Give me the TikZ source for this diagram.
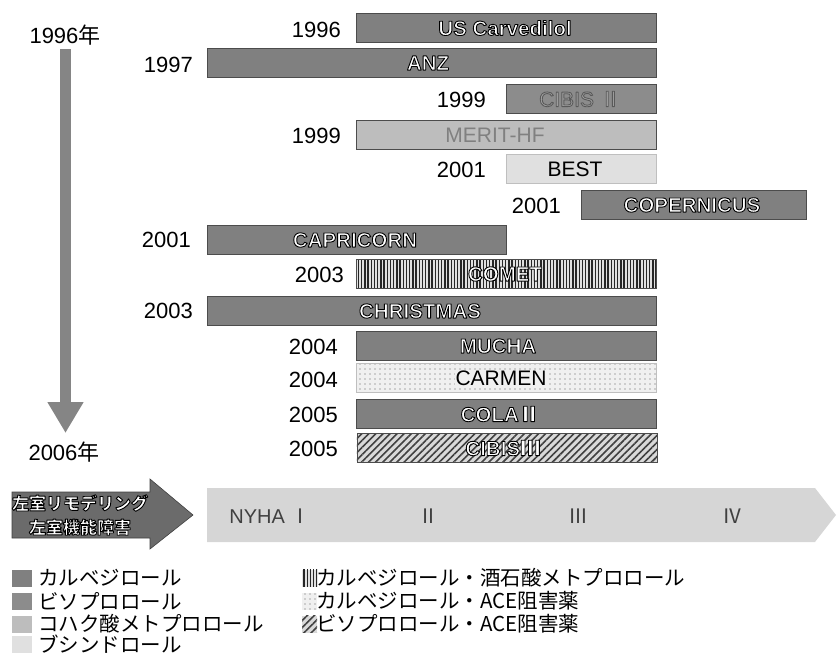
\documentclass[tikz,border=0pt]{standalone}
\usepackage{fontspec}
\setmainfont{Liberation Sans}
\newfontfamily\jp{Noto Sans CJK JP}
\usetikzlibrary{patterns,patterns.meta,arrows.meta}
\definecolor{carv}{gray}{0.50}
\definecolor{biso}{gray}{0.55}
\definecolor{meto}{gray}{0.74}
\definecolor{buci}{gray}{0.88}
\definecolor{arrowgray}{gray}{0.52}
\definecolor{nyhagray}{gray}{0.84}
% outlined text: fill with current colour, stroke in black
\newcommand\olt[2][0 0 0]{\special{pdf:literal direct #1 RG 0.9 w 1 j 2 Tr}#2\special{pdf:literal direct 0 Tr}}
\begin{document}
\begin{tikzpicture}[x=1pt,y=-1pt,
  bar/.style={draw=black!70, line width=0.6pt, minimum height=29pt, inner sep=0pt, anchor=west},
  yr/.style={anchor=east, inner sep=0pt, font=\fontsize{22}{24}\selectfont},
  lbl/.style={inner sep=0pt, font=\fontsize{21}{24}\selectfont},
  olbl/.style={inner sep=0pt, text=white, font=\bfseries\fontsize{20.5}{24}\selectfont},
  leg/.style={anchor=west, inner sep=0pt, font=\jp\fontsize{20.5}{24}\selectfont},
  sw/.style={inner sep=0pt, minimum height=17pt, anchor=west},
  vlines/.style={preaction={fill=black!12}, pattern={Lines[angle=90,distance=3.2pt,line width=1.4pt]}, pattern color=black!85},
  dotsp/.style={preaction={fill=black!6}, pattern={Dots[distance=5pt,radius=0.7pt]}, pattern color=black!65},
  hatch/.style={preaction={fill=black!15}, pattern={Lines[angle=45,distance=5pt,line width=1.6pt]}, pattern color=black!75},
  numer/.style={inner sep=0pt, text=black!75, font=\fontsize{20}{24}\selectfont}
]
\useasboundingbox (0,0) rectangle (838,654);

% left time arrow
\node[inner sep=0pt, font=\fontsize{22}{24}\selectfont] (t1) at (65,35) {1996{\jp 年}};
\node[inner sep=0pt, font=\fontsize{22}{24}\selectfont] (t2) at (64,452) {2006{\jp 年}};
\coordinate (vs) at (65.5,49);
\coordinate (ve) at (65.5,433);
\draw[arrowgray, line width=11pt, -{Triangle[width=34pt,length=31pt]}] (vs) -- (ve);

% bars
\node[bar, fill=carv, minimum width=300pt] (b1) at (356,28) {};
\node[olbl] (l1) at (505,28) {\olt{US Carvedilol}};
\node[yr] (y1) at (341,30) {1996};

\node[bar, fill=carv, minimum width=449pt] (b2) at (207,63) {};
\node[olbl] (l2) at (428,63) {\olt{ANZ}};
\node[yr] (y2) at (193,65) {1997};

\node[bar, fill=biso, minimum width=150pt] (b3) at (506,99) {};
\node[lbl, text=black!35] (l3) at (580,99) {\olt[0.35 0.35 0.35]{CIBIS {\jp Ⅱ}}};
\node[yr] (y3) at (486,100) {1999};

\node[bar, fill=meto, minimum width=300pt] (b4) at (356,135) {};
\node[lbl, text=black!50] (l4) at (495,135) {MERIT-HF};
\node[yr] (y4) at (341,136) {1999};

\node[bar, fill=buci, draw=black!25, minimum width=150pt] (b5) at (506,169) {};
\node[lbl] (l5) at (575,169) {BEST};
\node[yr] (y5) at (486,170) {2001};

\node[bar, fill=carv, minimum width=225pt] (b6) at (581,205) {};
\node[olbl] (l6) at (692,205) {\olt{COPERNICUS}};
\node[yr] (y6) at (561,206) {2001};

\node[bar, fill=carv, minimum width=299pt] (b7) at (207,240) {};
\node[olbl] (l7) at (355,240) {\olt{CAPRICORN}};
\node[yr] (y7) at (191,240) {2001};

\node[bar, vlines, minimum width=300pt] (b8) at (356,274) {};
\node[olbl] (l8) at (505,274) {\olt{COMET}};
\node[yr] (y8) at (344,275) {2003};

\node[bar, fill=carv, minimum width=449pt] (b9) at (207,311) {};
\node[olbl] (l9) at (420,311) {\olt{CHRISTMAS}};
\node[yr] (y9) at (193,311) {2003};

\node[bar, fill=carv, minimum width=300pt] (b10) at (356,346) {};
\node[olbl] (l10) at (498,346) {\olt{MUCHA}};
\node[yr] (y10) at (338,347) {2004};

\node[bar, dotsp, draw=black!25, minimum width=300pt] (b11) at (356,378) {};
\node[lbl, fill=black!6, inner sep=1pt] (l11) at (501,378) {CARMEN};
\node[yr] (y11) at (338,380) {2004};

\node[bar, fill=carv, minimum width=300pt] (b12) at (356,414) {};
\node[olbl] (l12) at (500,414) {\olt{COLA{\jp Ⅱ}}};
\node[yr] (y12) at (338,415) {2005};

\node[bar, hatch, minimum width=300pt] (b13) at (356,448) {};
\node[olbl] (l13) at (503,448) {\olt{CIBIS{\jp Ⅲ}}};
\node[yr] (y13) at (338,449) {2005};

% bottom left arrow
\fill[black!58, draw=black!75, line width=0.6pt] (12,492) -- (150,492) -- (150,479) -- (193,515) -- (150,549) -- (150,538) -- (12,538) -- cycle;
\node[inner sep=0pt, align=center, text=white, font=\jp\bfseries\fontsize{17}{24}\selectfont] (lv) at (80,515) {\olt{左室リモデリング}\\\olt{左室機能障害}};

% NYHA band
\fill[nyhagray] (207,488) -- (815,488) -- (836,515) -- (815,542) -- (207,542) -- cycle;
\node[numer] (n1) at (270,516) {NYHA {\jp Ⅰ}};
\node[numer, font=\jp\fontsize{20}{24}\selectfont] (n2) at (428,516) {Ⅱ};
\node[numer, font=\jp\fontsize{20}{24}\selectfont] (n3) at (578,516) {Ⅲ};
\node[numer, font=\jp\fontsize{20}{24}\selectfont] (n4) at (732,516) {Ⅳ};

% legend
\node[sw, fill=carv, minimum width=20pt] (s1) at (12,578) {};
\node[leg] (g1) at (38,578) {カルベジロール};
\node[sw, fill=biso, minimum width=20pt] (s2) at (12,601) {};
\node[leg] (g2) at (38,601) {ビソプロロール};
\node[sw, fill=meto, minimum width=20pt] (s3) at (12,624) {};
\node[leg] (g3) at (38,624) {コハク酸メトプロロール};
\node[sw, fill=buci, minimum width=20pt] (s4) at (12,644) {};
\node[leg] (g4) at (38,644) {ブシンドロール};

\node[sw, vlines, minimum width=15pt] (s5) at (302,578) {};
\node[leg] (g5) at (316,578) {カルベジロール・酒石酸メトプロロール};
\node[sw, dotsp, minimum width=15pt] (s6) at (302,601) {};
\node[leg] (g6) at (316,601) {カルベジロール・ACE阻害薬};
\node[sw, hatch, minimum width=15pt] (s7) at (302,624) {};
\node[leg] (g7) at (316,624) {ビソプロロール・ACE阻害薬};
\end{tikzpicture}
\end{document}
